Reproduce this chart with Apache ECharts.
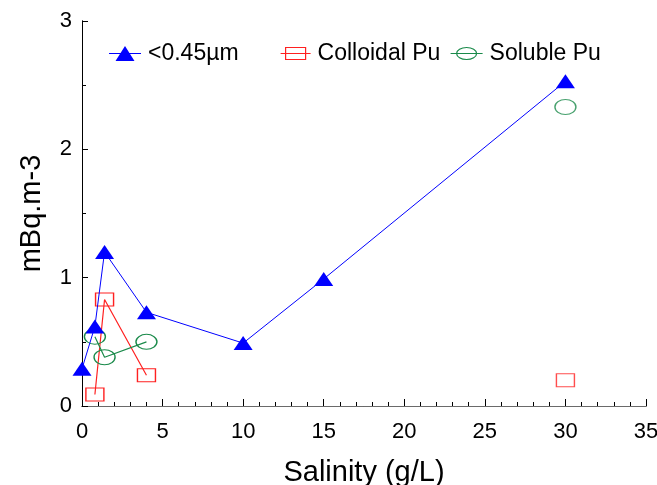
<!DOCTYPE html>
<html>
<head>
<meta charset="utf-8">
<script src="https://cdn.jsdelivr.net/npm/echarts@6/dist/echarts.min.js"></script>
<style>
  html, body { margin: 0; padding: 0; background: #fff; }
  #chart { width: 657px; height: 485px; }
</style>
</head>
<body>
<div id="chart"></div>
<script>
// Salinity (g/L) of each sample
const salinityLine = [0.0, 0.8, 1.4, 4.0, 10.0, 15.0, 30.0];
const salinityEstuary = [0.8, 1.4, 4.0];
const salinitySea = [30.0];

// Pu activities (mBq.m-3)
const filtered = [0.29, 0.62, 1.20, 0.73, 0.49, 0.99, 2.53];
const colloidal = [0.09, 0.83, 0.24];
const colloidalSea = [0.20];
const soluble = [0.54, 0.38, 0.50];
const solubleSea = [2.33];

const xTicks = [0, 5, 10, 15, 20, 25, 30, 35];
const yTicks = [0, 1, 2, 3];

const pairs = (xs, ys) => xs.map((x, i) => [x, ys[i]]);

const FONT = 'Liberation Sans';
const BLUE = '#0000ff';
const RED = '#ff2020';
const GREEN = '#1a8a4a';
const HOLLOW = 'rgba(0,0,0,0)';

// legend keys: a line with the series marker on it
const keyTriangle = 'path://M0,7 L32,7 L32,8 L0,8 Z M6.5,15 L16,0 L25.5,15 Z';
const keySquare = 'path://M0,6.5 L30,6.5 M5,0.5 L25,0.5 L25,12.5 L5,12.5 Z';
const keyEllipse = 'path://M0,6 L32,6 M6,6 A10,6 0 1,1 26,6 A10,6 0 1,1 6,6 Z';

const legendText = { fontFamily: FONT, fontSize: 23, color: '#000', padding: [0, 0, 0, 2] };
const makeLegend = (left, name, icon, w, h, style) => ({
  left: left, top: 42, padding: 0,
  itemWidth: w, itemHeight: h,
  textStyle: legendText,
  data: [{ name: name, icon: icon, itemStyle: style }]
});

const hiddenAxis = (color) => ({
  axisLine: { show: true, lineStyle: { color: color, width: 1 } },
  axisTick: { show: false }, axisLabel: { show: false }, splitLine: { show: false }
});

const chart = echarts.init(document.getElementById('chart'));
chart.setOption({
  animation: false,
  textStyle: { fontFamily: FONT },
  grid: { left: 82, right: 11, top: 21, bottom: 79, show: false, outerBoundsMode: 'none', containLabel: false },
  legend: [
    makeLegend(109, '<0.45µm', keyTriangle, 32, 15, { color: BLUE, borderWidth: 0 }),
    makeLegend(280, 'Colloidal Pu', keySquare, 30, 12, { color: HOLLOW, borderColor: RED, borderWidth: 1.2 }),
    makeLegend(450, 'Soluble Pu', keyEllipse, 32, 12, { color: HOLLOW, borderColor: GREEN, borderWidth: 1.2 })
  ],
  xAxis: [
    {
      type: 'value', position: 'bottom',
      min: xTicks[0], max: xTicks[xTicks.length - 1], interval: 5,
      name: 'Salinity (g/L)', nameLocation: 'middle', nameGap: 52,
      nameTextStyle: { fontFamily: FONT, fontSize: 29, color: '#000' },
      axisLine: { lineStyle: { color: '#000', width: 1 } },
      axisTick: { inside: true, length: 7, lineStyle: { color: '#000' } },
      minorTick: { show: true, splitNumber: 5, length: 4, lineStyle: { color: '#000' } },
      axisLabel: { fontFamily: FONT, fontSize: 22, color: '#000', margin: 15 },
      splitLine: { show: false }
    },
    Object.assign({ type: 'value', position: 'top', min: 0, max: 35 }, hiddenAxis('#6a6a6a'))
  ],
  yAxis: [
    {
      type: 'value', position: 'left',
      min: yTicks[0], max: yTicks[yTicks.length - 1], interval: 1,
      name: 'mBq.m-3', nameLocation: 'middle', nameGap: 36,
      nameTextStyle: { fontFamily: FONT, fontSize: 29, color: '#000' },
      axisLine: { lineStyle: { color: '#000', width: 1 } },
      axisTick: { inside: true, length: 6, lineStyle: { color: '#000' } },
      minorTick: { show: true, splitNumber: 2, length: 4, lineStyle: { color: '#000' } },
      axisLabel: { fontFamily: FONT, fontSize: 22, color: '#000', margin: 10 },
      splitLine: { show: false }
    },
    Object.assign({ type: 'value', position: 'right', min: 0, max: 3 }, hiddenAxis('#000'))
  ],
  series: [
    {
      name: '<0.45µm', type: 'line',
      data: pairs(salinityLine, filtered),
      symbol: 'triangle', symbolSize: [19, 14],
      lineStyle: { color: BLUE, width: 1 },
      itemStyle: { color: BLUE, borderWidth: 0 },
      z: 3
    },
    {
      name: 'Colloidal Pu', type: 'line',
      data: pairs(salinityEstuary, colloidal),
      symbol: 'rect', symbolSize: [18, 13],
      lineStyle: { color: RED, width: 1.2 },
      itemStyle: { color: HOLLOW, borderColor: RED, borderWidth: 1.2 },
      z: 2
    },
    {
      name: 'Soluble Pu', type: 'line',
      data: pairs(salinityEstuary, soluble),
      symbol: 'circle', symbolSize: [21, 15],
      lineStyle: { color: GREEN, width: 1.2 },
      itemStyle: { color: HOLLOW, borderColor: GREEN, borderWidth: 1.2 },
      z: 2
    },
    {
      name: 'Colloidal Pu', type: 'scatter',
      data: pairs(salinitySea, colloidalSea),
      symbol: 'rect', symbolSize: [18, 13],
      itemStyle: { color: HOLLOW, borderColor: RED, borderWidth: 1.2 }
    },
    {
      name: 'Soluble Pu', type: 'scatter',
      data: pairs(salinitySea, solubleSea),
      symbol: 'circle', symbolSize: [21, 15],
      itemStyle: { color: HOLLOW, borderColor: GREEN, borderWidth: 1.2 }
    }
  ]
});
</script>
</body>
</html>
